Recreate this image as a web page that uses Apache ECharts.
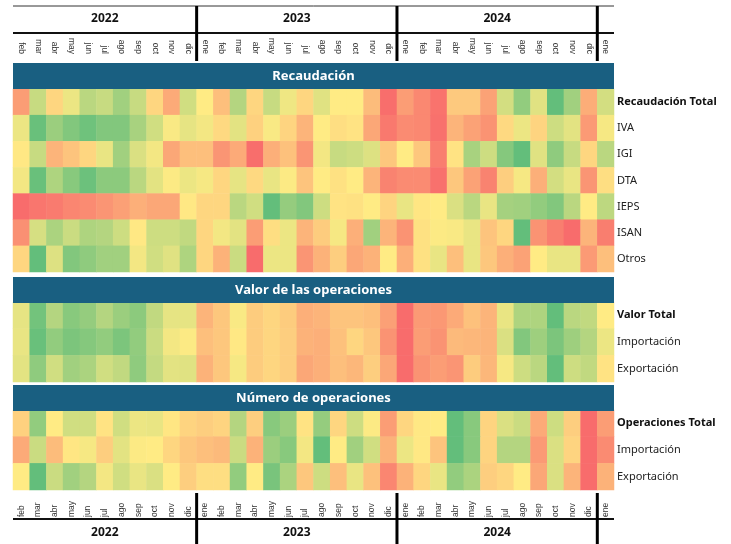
<!DOCTYPE html>
<html><head><meta charset="utf-8">
<script src="https://cdn.jsdelivr.net/npm/echarts@6/dist/echarts.min.js"></script>
<style>html,body{margin:0;padding:0;background:#fff}#c{width:731px;height:544px}</style>
</head><body><div id="c"></div>
<script>
// ---- Data ----
const monthNames = ['feb','mar','abr','may','jun','jul','ago','sep','oct','nov','dic',
  'ene','feb','mar','abr','may','jun','jul','ago','sep','oct','nov','dic',
  'ene','feb','mar','abr','may','jun','jul','ago','sep','oct','nov','dic','ene'];
const monthYears = [2022,2022,2022,2022,2022,2022,2022,2022,2022,2022,2022,
  2023,2023,2023,2023,2023,2023,2023,2023,2023,2023,2023,2023,
  2024,2024,2024,2024,2024,2024,2024,2024,2024,2024,2024,2024,2025];
const yearLabels = ['2022','2023','2024'];
const sectionTitles = ['Recaudación','Valor de las operaciones','Número de operaciones'];

const recaudacionRows = ['Recaudación Total','IVA','IGI','DTA','IEPS','ISAN','Otros'];
const recaudacionTotal = [20,68,42,56,72,68,80,68,42,25,65,50,33,74,42,68,55,42,60,50,50,32,2,20,12,4,37,37,22,64,85,60,100,80,26,64];
const iva   = [56,98,82,90,96,90,90,78,65,52,58,54,43,59,40,52,41,29,50,45,47,24,6,13,12,3,29,22,16,43,56,41,66,59,19,53];
const igi   = [49,68,29,35,42,57,80,62,54,24,33,33,17,25,2,27,34,17,54,68,66,61,36,50,36,8,47,78,66,89,100,60,86,68,42,72];
const dta   = [54,98,76,88,97,87,87,72,59,51,56,53,42,58,43,57,51,35,50,46,50,29,10,13,13,3,36,22,10,39,53,27,64,57,17,45];
const ieps  = [1,5,7,11,13,17,21,27,24,24,49,42,42,72,65,100,84,90,66,47,46,50,41,57,48,50,62,72,57,79,80,85,90,72,50,71];
const isan  = [15,63,77,67,76,74,66,49,66,66,70,42,54,59,20,45,56,29,38,53,27,80,29,16,46,51,52,57,35,42,100,16,8,1,29,8];
const otros = [42,100,61,90,86,80,80,54,65,60,76,42,28,67,1,56,56,17,28,39,24,28,50,27,46,57,33,57,36,27,22,50,57,57,19,33];

const valorRows = ['Valor Total','Importación','Exportación'];
const valorTotal = [58,95,74,88,84,74,82,87,70,58,58,29,36,52,38,42,38,27,29,35,35,33,21,1,19,18,25,34,29,57,76,76,100,72,70,50];
const valorImp   = [57,98,85,92,89,85,92,85,67,54,51,33,36,49,38,42,39,28,27,34,42,36,16,1,20,16,31,30,29,62,90,81,92,81,74,56];
const valorExp   = [59,86,65,80,77,65,70,86,69,59,60,28,36,53,38,42,39,24,27,33,30,39,24,1,16,20,17,38,30,53,66,72,100,66,70,47];

const numeroRows = ['Operaciones Total','Importación','Exportación'];
const opsTotal = [40,85,50,65,65,47,65,56,57,48,41,39,41,74,39,88,82,47,84,42,66,51,20,42,49,50,100,88,41,62,67,25,66,39,1,20];
const opsImp   = [25,67,32,48,53,39,59,51,50,42,36,33,31,67,28,82,88,54,100,50,80,65,28,56,49,35,100,88,41,74,74,19,62,41,1,13];
const opsExp   = [50,100,67,80,74,54,65,57,62,50,39,45,45,85,50,93,77,36,66,33,57,34,11,28,42,57,85,77,39,42,50,24,62,29,1,28];

const sections = [
  {rows: recaudacionRows, values: [recaudacionTotal, iva, igi, dta, ieps, isan, otros]},
  {rows: valorRows, values: [valorTotal, valorImp, valorExp]},
  {rows: numeroRows, values: [opsTotal, opsImp, opsExp]}
];

// ---- Layout ----
const cats = monthNames.map((m, i) => m + '-' + monthYears[i]);
const gridLeft = 13, gridRight = 117;
const gridTops = [89, 302, 410];
const gridHeights = [183, 80, 80];
const bandTops = [63, 277, 385];
const bandH = 26;
const FONT = 'Noto Sans';

const chart = echarts.init(document.getElementById('c'), null, {renderer: 'canvas'});

const grids = [], xAxes = [], yAxes = [], series = [];
sections.forEach((s, gi) => {
  grids.push({left: gridLeft, right: gridRight, top: gridTops[gi], height: gridHeights[gi]});
  const isTop = gi === 0, isBottom = gi === 2;
  xAxes.push({
    type: 'category', gridIndex: gi, data: cats,
    position: isTop ? 'top' : 'bottom',
    offset: 0,
    axisLine: {show: false}, axisTick: {show: false}, splitLine: {show: false},
    axisLabel: {
      show: isTop || isBottom, interval: 0, rotate: 90,
      margin: isTop ? 35 : 27,
      align: isBottom ? 'left' : undefined,
      fontSize: 8.5, color: '#333', fontFamily: 'Liberation Sans',
      formatter: v => v.split('-')[0]
    }
  });
  yAxes.push({
    type: 'category', gridIndex: gi, data: s.rows, inverse: true, position: 'right',
    axisLine: {show: false}, axisTick: {show: false}, splitLine: {show: false},
    axisLabel: {
      margin: 3, fontSize: 11, color: '#222', fontFamily: FONT, align: 'left',
      formatter: (v, i) => i === 0 ? '{b|' + v + '}' : v,
      rich: {b: {fontWeight: 'bold', fontSize: 11, color: '#111', fontFamily: FONT}}
    }
  });
  const data = [];
  s.values.forEach((row, ri) => row.forEach((v, ci) => data.push([ci, ri, v])));
  series.push({
    type: 'heatmap', xAxisIndex: gi, yAxisIndex: gi, data: data,
    itemStyle: {borderWidth: 0}, emphasis: {disabled: true}, progressive: 0
  });
});

chart.setOption({
  animation: false,
  grid: grids, xAxis: xAxes, yAxis: yAxes, series: series,
  visualMap: {
    show: false, min: 0, max: 100, seriesIndex: [0, 1, 2], calculable: false,
    inRange: {color: ['#f8696b', '#ffeb84', '#63be7b']}
  }
});

// ---- Decorations positioned through the axis scale ----
function xCenter(i) { return chart.convertToPixel({xAxisIndex: 0}, cats[i]); }
const colW = xCenter(1) - xCenter(0);
const leftEdge = xCenter(0) - colW / 2;
const rightEdge = xCenter(cats.length - 1) + colW / 2;
const bounds = [];
for (let i = 1; i < cats.length; i++) if (monthYears[i] !== monthYears[i - 1]) bounds.push(xCenter(i) - colW / 2);
const yearStarts = [leftEdge].concat(bounds);

const g = [];
sections.forEach((s, gi) => {
  g.push({type: 'rect', shape: {x: leftEdge, y: bandTops[gi], width: rightEdge - leftEdge, height: bandH},
    style: {fill: '#195f81'}, z: 10});
  g.push({type: 'text', x: (leftEdge + rightEdge) / 2, y: bandTops[gi] + bandH / 2,
    style: {text: sectionTitles[gi], fill: '#fff', font: 'bold 13px "Noto Sans"', textAlign: 'center', textVerticalAlign: 'middle'}, z: 11});
});
g.push({type: 'line', shape: {x1: leftEdge, y1: 6, x2: rightEdge, y2: 6}, style: {stroke: '#333', lineWidth: 1}});
g.push({type: 'line', shape: {x1: leftEdge, y1: 33, x2: rightEdge, y2: 33}, style: {stroke: '#111', lineWidth: 2}});
g.push({type: 'line', shape: {x1: leftEdge, y1: 519, x2: rightEdge, y2: 519}, style: {stroke: '#111', lineWidth: 2}});
bounds.forEach(b => {
  g.push({type: 'line', shape: {x1: b, y1: 6, x2: b, y2: 61}, style: {stroke: '#000', lineWidth: 3}});
  g.push({type: 'line', shape: {x1: b, y1: 493, x2: b, y2: 544}, style: {stroke: '#000', lineWidth: 3}});
});
yearLabels.forEach((y, i) => {
  const cx = (yearStarts[i] + yearStarts[i + 1]) / 2;
  g.push({type: 'text', x: cx, y: 19, style: {text: y, fill: '#111', font: 'bold 12px "Noto Sans"', textAlign: 'center', textVerticalAlign: 'middle'}});
  g.push({type: 'text', x: cx, y: 533, style: {text: y, fill: '#111', font: 'bold 12px "Noto Sans"', textAlign: 'center', textVerticalAlign: 'middle'}});
});
chart.setOption({graphic: g});
</script></body></html>
